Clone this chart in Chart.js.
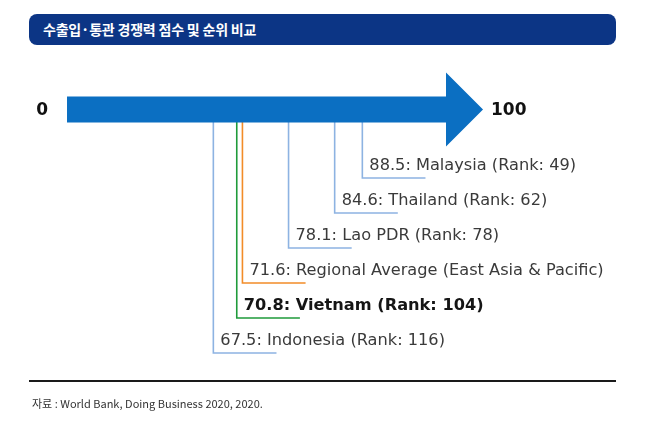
<!DOCTYPE html>
<html>
<head>
<meta charset="utf-8">
<script src="https://cdn.jsdelivr.net/npm/chart.js@4.4.1/dist/chart.umd.min.js"></script>
<style>
  html, body { margin: 0; padding: 0; background: #fff; }
  #wrap { position: relative; width: 645px; height: 428px; overflow: hidden; }
  #c { position: absolute; left: 0; top: 0; }
  #title {
    position: absolute; left: 29px; top: 14px; width: 587px; height: 31px;
    background: #0c3585; border-radius: 8px; box-sizing: border-box;
    padding-left: 14px; color: #fff; font-family: "Noto Sans CJK KR", sans-serif;
    font-weight: 700; font-size: 14px; line-height: 31px; letter-spacing: -0.2px;
    white-space: nowrap;
  }
  #rule { position: absolute; left: 29px; top: 380px; width: 587px; height: 1.5px; background: #1a1a1a; }
  #src {
    position: absolute; left: 32px; top: 395px; color: #333; white-space: nowrap;
    font-family: "Noto Sans CJK KR", sans-serif; font-size: 11px; line-height: 16px; letter-spacing: 0px;
  }
</style>
</head>
<body>
<div id="wrap">
  <canvas id="c" width="645" height="428"></canvas>
  <div id="title">수출입·통관 경쟁력 점수 및 순위 비교</div>
  <div id="rule"></div>
  <div id="src">자료 : World Bank, Doing Business 2020, 2020.</div>
</div>
<script>
// ---- data ----
const countries = ['Malaysia', 'Thailand', 'Lao PDR', 'Regional Average (East Asia & Pacific)', 'Vietnam', 'Indonesia'];
const scores = [88.5, 84.6, 78.1, 71.6, 70.8, 67.5];
const ranks = [49, 62, 78, null, 104, 116];
const axisMin = 0;
const axisMax = 100;
const axisLabels = ['0', '100'];

// ---- styles ----
const colors = ['#8db3e2', '#8db3e2', '#8db3e2', '#f28c28', '#1f9b3b', '#8db3e2'];
const highlight = 'Vietnam';
const LEADER_LEN = 8.9;      // horizontal leader length in score units
const ARROW_ROW = -1.96;     // arrow centre on the row axis
const ARROW_COLOR = '#0b6fc2';

const datasets = scores.map((v, i) => ({
  label: countries[i],
  data: [{x: v, y: ARROW_ROW}, {x: v, y: i}, {x: v + LEADER_LEN, y: i}],
  borderColor: colors[i],
  borderWidth: 1.6,
  pointRadius: 0,
  showLine: true,
  fill: false,
  tension: 0
}));

const arrowPlugin = {
  id: 'arrowPlugin',
  afterDatasetsDraw(chart) {
    const ctx = chart.ctx;
    const xa = chart.scales.xa, x = chart.scales.x, y = chart.scales.y;
    const cy = y.getPixelForValue(ARROW_ROW);
    const x0 = xa.getPixelForValue(axisMin);
    const tip = xa.getPixelForValue(axisMax);
    const headLen = 37, shaftH = 13, headH = 37;
    ctx.save();
    ctx.fillStyle = ARROW_COLOR;
    ctx.beginPath();
    ctx.moveTo(x0, cy - shaftH);
    ctx.lineTo(tip - headLen, cy - shaftH);
    ctx.lineTo(tip - headLen, cy - headH);
    ctx.lineTo(tip, cy);
    ctx.lineTo(tip - headLen, cy + headH);
    ctx.lineTo(tip - headLen, cy + shaftH);
    ctx.lineTo(x0, cy + shaftH);
    ctx.closePath();
    ctx.fill();

    ctx.fillStyle = '#111';
    ctx.font = 'bold 17px "DejaVu Sans"';
    ctx.textBaseline = 'middle';
    ctx.textAlign = 'right';
    ctx.fillText(axisLabels[0], x0 - 19, cy + 1);
    ctx.textAlign = 'left';
    ctx.fillText(axisLabels[1], tip + 8, cy + 1);

    ctx.textBaseline = 'alphabetic';
    scores.forEach((v, i) => {
      const isHi = countries[i] === highlight;
      ctx.font = (isHi ? 'bold ' : '') + '16.2px "DejaVu Sans"';
      ctx.fillStyle = isHi ? '#151515' : '#3a3a3a';
      const txt = v.toFixed(1) + ': ' + countries[i] + (ranks[i] != null ? ' (Rank: ' + ranks[i] + ')' : '');
      ctx.fillText(txt, x.getPixelForValue(v) + 7, y.getPixelForValue(i) - 8);
    });
    ctx.restore();
  }
};

new Chart(document.getElementById('c'), {
  type: 'scatter',
  data: { datasets },
  options: {
    responsive: false,
    devicePixelRatio: 1,
    animation: false,
    layout: { padding: 0 },
    plugins: { legend: { display: false }, title: { display: false }, tooltip: { enabled: false } },
    scales: {
      x: { type: 'linear', display: false, min: 37.43, max: 128.34 },
      xa: { type: 'linear', display: false, axis: 'x', min: -16.11, max: 138.94 },
      y: { type: 'linear', display: false, reverse: true, min: -5.086, max: 7.143 }
    }
  },
  plugins: [arrowPlugin]
});
</script>
</body>
</html>
